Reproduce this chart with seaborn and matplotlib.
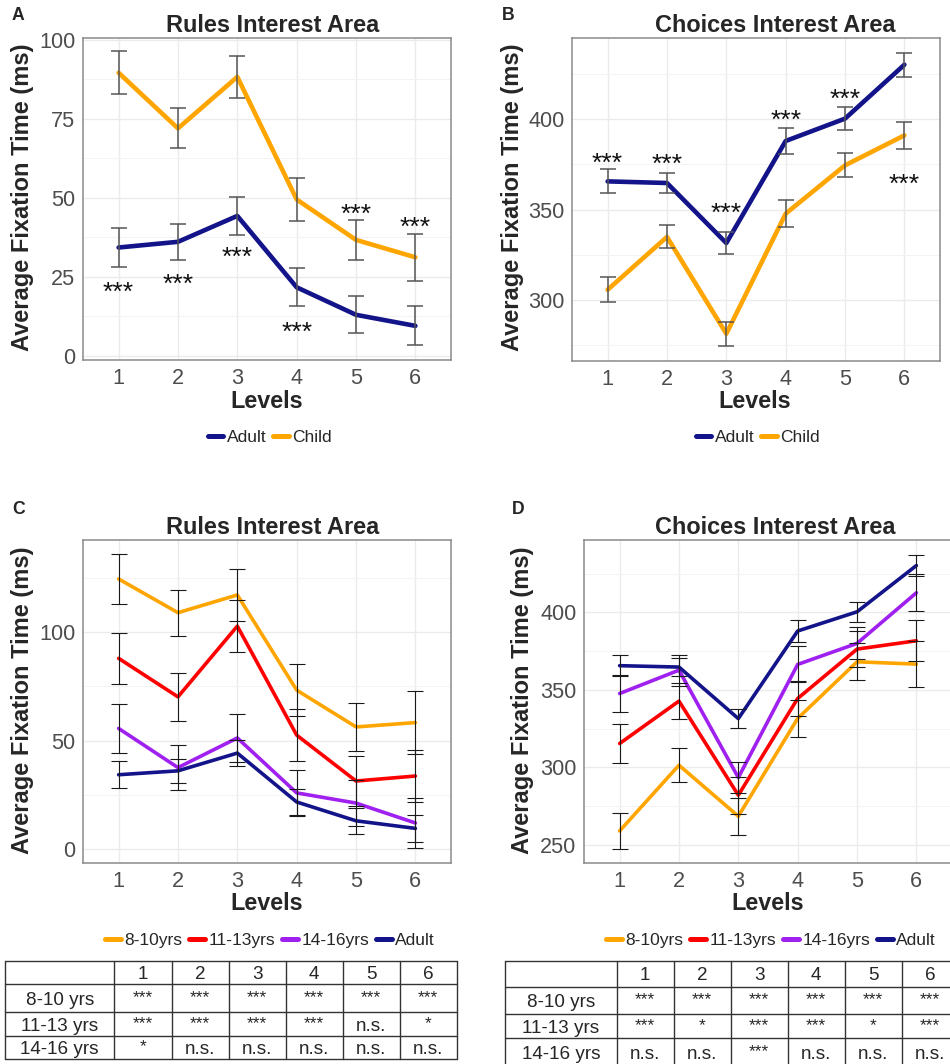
import numpy as np
import pandas as pd
import matplotlib
matplotlib.use("Agg")
import matplotlib.pyplot as plt
from matplotlib.lines import Line2D
import seaborn as sns

sns.set_style("white")
plt.rcParams['font.family'] = ['Liberation Sans', 'DejaVu Sans']

# ---------------- data ----------------
levels = [1, 2, 3, 4, 5, 6]

# Panel A: Rules interest area (Adult vs Child)
a_adult = [34.2, 36.0, 44.2, 21.6, 12.9, 9.4]
a_adult_se = [6.2, 5.65, 6.0, 6.05, 5.9, 6.2]
a_child = [89.5, 71.9, 88.2, 49.4, 36.6, 31.1]
a_child_se = [6.75, 6.35, 6.7, 6.7, 6.4, 7.45]
a_star_y = [22.3, 25.0, 33.4, 9.7, 47.1, 42.9]

# Panel B: Choices interest area (Adult vs Child)
b_adult = [365.6, 364.7, 331.4, 388.0, 400.4, 430.3]
b_adult_se = [6.7, 5.7, 6.3, 7.0, 6.4, 6.65]
b_child = [305.5, 334.8, 281.1, 347.7, 374.5, 391.1]
b_child_se = [6.85, 6.35, 6.75, 7.4, 6.65, 7.65]
b_star_y = [380.0, 379.1, 351.8, 403.7, 415.2, 368.4]

# Panel C: Rules interest area by age group
c_8_10 = [124.7, 109.1, 117.3, 73.3, 56.3, 58.3]
c_8_10_se = [11.6, 10.65, 11.95, 12.0, 11.1, 14.5]
c_11_13 = [88.0, 70.2, 102.9, 52.5, 31.3, 33.6]
c_11_13_se = [11.65, 10.95, 12.0, 12.1, 11.4, 12.2]
c_14_16 = [55.6, 37.5, 51.2, 25.8, 21.1, 11.9]
c_14_16_se = [11.15, 10.25, 10.95, 10.8, 10.8, 11.35]
c_adult = a_adult
c_adult_se = a_adult_se

# Panel D: Choices interest area by age group
d_8_10 = [258.8, 301.3, 268.3, 331.5, 368.1, 366.6]
d_8_10_se = [11.55, 11.0, 12.1, 11.9, 11.85, 14.75]
d_11_13 = [315.3, 342.7, 281.9, 344.4, 376.3, 381.7]
d_11_13_se = [12.5, 11.65, 11.85, 11.35, 11.65, 13.25]
d_14_16 = [347.6, 362.7, 293.3, 366.4, 380.0, 412.7]
d_14_16_se = [12.05, 10.05, 9.8, 11.65, 10.35, 11.85]
d_adult = b_adult
d_adult_se = b_adult_se

# Significance tables
table_header = ["", "1", "2", "3", "4", "5", "6"]
table_rows = ["8-10 yrs", "11-13 yrs", "14-16 yrs"]
c_sig = [["***", "***", "***", "***", "***", "***"],
         ["***", "***", "***", "***", "n.s.", "*"],
         ["*", "n.s.", "n.s.", "n.s.", "n.s.", "n.s."]]
d_sig = [["***", "***", "***", "***", "***", "***"],
         ["***", "*", "***", "***", "*", "***"],
         ["n.s.", "n.s.", "***", "n.s.", "n.s.", "n.s."]]

# ---------------- style ----------------
COL = {"Adult": "#14148a", "Child": "#FFA500"}
COL_AGE = {"8-10yrs": "#FFA500", "11-13yrs": "#FF0000",
           "14-16yrs": "#A020F0", "Adult": "#14148a"}

W, H = 950, 1064
fig = plt.figure(figsize=(W / 100, H / 100), dpi=100)


def fx(x):
    return x / W


def fy(y):
    return 1 - y / H


def add_panel(l, t, r, b):
    return fig.add_axes([l / W, 1 - b / H, (r - l) / W, (b - t) / H])


def style_axes(ax, ylim, yticks, yminor):
    ax.set_xlim(0.4, 6.6)
    ax.set_ylim(*ylim)
    ax.set_xticks(levels)
    ax.set_xticklabels([str(l) for l in levels])
    ax.set_yticks(yticks)
    ax.set_yticks(yminor, minor=True)
    ax.set_axisbelow(True)
    ax.grid(which='major', color='#EBEBEB', lw=1.0)
    ax.grid(which='minor', axis='y', color='#F3F3F3', lw=0.7)
    for s in ax.spines.values():
        s.set_color('#8a8a8a')
        s.set_linewidth(1.1)
    ax.tick_params(which='major', length=3, width=0.8, color='#333333',
                   labelsize=15.6, labelcolor='#4D4D4D', pad=2.5)
    ax.tick_params(which='minor', length=0)
    ax.set_xlabel("")
    ax.set_ylabel("")


def draw_series(ax, series, palette, lw, ecol, elw):
    rows = []
    for name, (vals, se) in series.items():
        for lv, v in zip(levels, vals):
            rows.append({"level": lv, "value": v, "group": name})
    df = pd.DataFrame(rows)
    sns.lineplot(data=df, x="level", y="value", hue="group",
                 hue_order=list(series.keys()), palette=palette,
                 linewidth=lw, errorbar=None, legend=False, ax=ax, zorder=2)
    for name, (vals, se) in series.items():
        ax.errorbar(levels, vals, yerr=se, fmt='none', ecolor=ecol,
                    elinewidth=elw, capsize=6.1, capthick=elw, zorder=3)


def legend(names, palette, cx, cy):
    handles = [Line2D([0], [0], color=palette[n], lw=3.6) for n in names]
    fig.legend(handles, names, loc='center', bbox_to_anchor=(fx(cx), fy(cy)),
               ncol=len(names), frameon=False, fontsize=12.5,
               handlelength=0.9, handletextpad=0.2, columnspacing=0.4,
               borderaxespad=0, borderpad=0)


def stars(ax, ys, size=19):
    for lv, y in zip(levels, ys):
        ax.annotate("***", xy=(lv, y), xytext=(0, -0.57 * size),
                    textcoords='offset points', ha='center', va='baseline',
                    fontsize=size, color='#111111', zorder=4)


def labels(letter, lx, ly, title, tx, ty, ylx, yly, xlx, xly):
    fig.text(fx(lx), fy(ly), letter, fontsize=12.7, fontweight='bold',
             ha='center', va='center')
    fig.text(fx(tx), fy(ty), title, fontsize=16.9, fontweight='bold',
             ha='center', va='center')
    fig.text(fx(ylx), fy(yly), "Average Fixation Time (ms)", fontsize=17,
             fontweight='bold', rotation=90, ha='center', va='center')
    fig.text(fx(xlx), fy(xly), "Levels", fontsize=16.8, fontweight='bold',
             ha='center', va='center')


# ---------------- Panel A ----------------
axA = add_panel(83, 38, 451, 360)
draw_series(axA, {"Adult": (a_adult, a_adult_se), "Child": (a_child, a_child_se)},
            COL, 3.3, '#555555', 1.1)
style_axes(axA, (-1.4, 100.5), [0, 25, 50, 75, 100], [12.5, 37.5, 62.5, 87.5])
stars(axA, a_star_y)
labels("A", 18, 15, "Rules Interest Area", 273, 26, 23, 197, 267, 401)
legend(["Adult", "Child"], COL, 270, 437)

# ---------------- Panel B ----------------
axB = add_panel(572, 38, 940, 361)
draw_series(axB, {"Adult": (b_adult, b_adult_se), "Child": (b_child, b_child_se)},
            COL, 3.3, '#555555', 1.1)
style_axes(axB, (266.0, 445.1), [300, 350, 400], [275, 325, 375, 425])
stars(axB, b_star_y)
labels("B", 508, 15, "Choices Interest Area", 775, 26, 512, 197, 755, 401)
legend(["Adult", "Child"], COL, 758, 437)

# ---------------- Panel C ----------------
axC = add_panel(83, 540, 451, 863)
draw_series(axC, {"8-10yrs": (c_8_10, c_8_10_se), "11-13yrs": (c_11_13, c_11_13_se),
                  "14-16yrs": (c_14_16, c_14_16_se), "Adult": (c_adult, c_adult_se)},
            COL_AGE, 2.6, '#1a1a1a', 0.8)
style_axes(axC, (-6.6, 142.7), [0, 50, 100], [25, 75, 125])
labels("C", 19, 510, "Rules Interest Area", 273, 527, 23, 700, 267, 903)
legend(["8-10yrs", "11-13yrs", "14-16yrs", "Adult"], COL_AGE, 270, 940)

# ---------------- Panel D ----------------
axD = add_panel(584, 540, 952, 863)
draw_series(axD, {"8-10yrs": (d_8_10, d_8_10_se), "11-13yrs": (d_11_13, d_11_13_se),
                  "14-16yrs": (d_14_16, d_14_16_se), "Adult": (d_adult, d_adult_se)},
            COL_AGE, 2.6, '#1a1a1a', 0.8)
style_axes(axD, (238.1, 446.8), [250, 300, 350, 400], [275, 325, 375, 425])
labels("D", 518, 510, "Choices Interest Area", 775, 527, 523, 700, 768, 903)
legend(["8-10yrs", "11-13yrs", "14-16yrs", "Adult"], COL_AGE, 771, 940)


# ---------------- Tables ----------------
def draw_table(xs, ys, sig):
    lc = '#333333'
    for x in xs:
        fig.add_artist(Line2D([fx(x), fx(x)], [fy(ys[0]), fy(ys[-1])],
                              color=lc, lw=1.0, transform=fig.transFigure))
    for y in ys:
        fig.add_artist(Line2D([fx(xs[0]), fx(xs[-1])], [fy(y), fy(y)],
                              color=lc, lw=1.0, transform=fig.transFigure))
    for j, h in enumerate(table_header):
        if h:
            cx = (xs[j] + xs[j + 1]) / 2
            cy = (ys[0] + ys[1]) / 2
            fig.text(fx(cx), fy(cy), h, fontsize=13.6, ha='center',
                     va='center_baseline')
    for i, rl in enumerate(table_rows):
        cy = (ys[i + 1] + ys[i + 2]) / 2
        fig.text(fx((xs[0] + xs[1]) / 2), fy(cy), rl, fontsize=13.6,
                 ha='center', va='center_baseline')
        for j, s in enumerate(sig[i]):
            cx = (xs[j + 1] + xs[j + 2]) / 2
            if s.startswith('*'):
                fig.text(fx(cx), fy(cy - 1), s, fontsize=12.5, ha='center',
                         va='center')
            else:
                fig.text(fx(cx), fy(cy), s, fontsize=13.6, ha='center',
                         va='center_baseline')


draw_table([5, 114.3, 171.7, 228.7, 285.7, 342.7, 399.7, 456.7],
           [961, 984.3, 1012.3, 1036, 1059.3], c_sig)
draw_table([505, 616.7, 673.7, 730.7, 787.7, 844.7, 901.7, 958.7],
           [960.7, 986.7, 1014.3, 1038.3, 1066], d_sig)

fig.savefig("out.png", dpi=100)
